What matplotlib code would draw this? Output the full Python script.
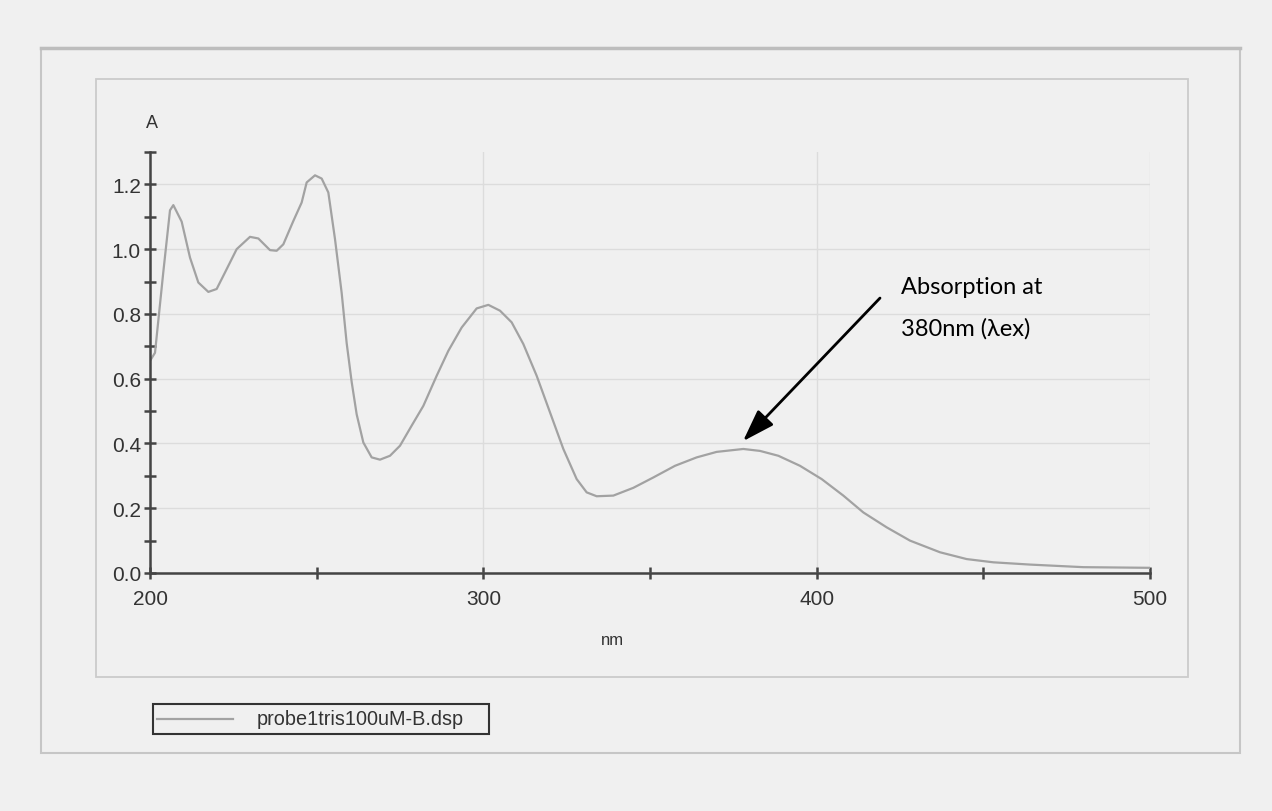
import matplotlib.pyplot as plt
from matplotlib.patches import Rectangle
from matplotlib.lines import Line2D
from matplotlib.ticker import MultipleLocator

# spectrum
wavelength = [200, 201.5, 202.5, 204, 206, 207, 209.5, 212, 214.5, 217.5, 220, 222.5,
              226, 230, 232.5, 236, 238, 240, 243, 245.5, 247, 249.5, 251.5, 253.5,
              255.5, 257.5, 259, 260.5, 262, 264, 266.5, 269, 272, 275, 278.5, 282,
              286, 289.5, 293.5, 298, 301.5, 305, 308.5, 312, 316, 320, 324, 328,
              331, 334, 339, 345, 351, 357.5, 364, 370, 378, 383, 388.5, 395, 401.5,
              408, 414, 421, 428, 437, 445, 453, 464, 480, 500]
absorbance = [0.655, 0.68, 0.78, 0.93, 1.12, 1.136, 1.085, 0.974, 0.897, 0.868, 0.877,
              0.928, 1.0, 1.038, 1.033, 0.997, 0.995, 1.015, 1.087, 1.144, 1.206,
              1.228, 1.218, 1.175, 1.031, 0.865, 0.71, 0.59, 0.49, 0.403, 0.357,
              0.35, 0.362, 0.393, 0.455, 0.516, 0.609, 0.686, 0.758, 0.817, 0.828,
              0.81, 0.774, 0.707, 0.609, 0.496, 0.383, 0.29, 0.249, 0.237, 0.239,
              0.263, 0.295, 0.331, 0.357, 0.374, 0.383, 0.377, 0.362, 0.331, 0.29,
              0.239, 0.187, 0.141, 0.1, 0.064, 0.043, 0.033, 0.026, 0.018, 0.016]
series_name = "probe1tris100uM-B.dsp"

W, H = 1272, 812
bg = "#f0f0f0"
plt.rcParams["font.family"] = ["Liberation Sans", "DejaVu Sans"]


def px(x, y):
    # pixel position (from top left) -> figure coords
    return x / W, 1 - y / H


fig = plt.figure(figsize=(W / 100, H / 100), dpi=100, facecolor=bg)

# the two grey panel frames
fig.add_artist(Rectangle(px(41, 754), 1199 / W, 705 / H, transform=fig.transFigure,
                         fill=False, edgecolor="#c6c6c6", lw=1.5))
fig.add_artist(Line2D([41 / W, 1240 / W], [1 - 49 / H] * 2, transform=fig.transFigure,
                      color="#bdbdbd", lw=2.5))
fig.add_artist(Rectangle(px(96, 678), 1092 / W, 598 / H, transform=fig.transFigure,
                         fill=False, edgecolor="#cbcbcb", lw=1.3))

ax = fig.add_axes([150 / W, 1 - 574 / H, 1000 / W, 421 / H])
ax.set_facecolor(bg)
ax.plot(wavelength, absorbance, color="#a2a2a2", lw=1.6)

ax.set_xlim(200, 500)
ax.set_ylim(0, 1.3)
ax.xaxis.set_major_locator(MultipleLocator(100))
ax.xaxis.set_minor_locator(MultipleLocator(50))
ax.yaxis.set_major_locator(MultipleLocator(0.2))
ax.yaxis.set_minor_locator(MultipleLocator(0.1))
ax.yaxis.set_major_formatter(lambda v, p: f"{v:.1f}")
ax.grid(True, which="major", color="#dcdcdc", lw=1)

for s in ["top", "right"]:
    ax.spines[s].set_visible(False)
for s in ["left", "bottom"]:
    ax.spines[s].set_color("#444444")
    ax.spines[s].set_linewidth(1.8)
ax.tick_params(which="both", direction="inout", length=9, width=1.8, color="#444444",
               labelsize=15, labelcolor="#333333")
ax.tick_params(axis="x", pad=7)
ax.tick_params(axis="y", pad=2)

ax.text(0.002, 1.071, "A", transform=ax.transAxes, ha="center", va="center",
        fontsize=13, color="#333333")
ax.text(0.462, -0.157, "nm", transform=ax.transAxes, ha="center", va="center",
        fontsize=12, color="#333333")

# annotation
ax.annotate("", xy=(377.9, 0.407), xytext=(419, 0.849),
            arrowprops=dict(arrowstyle="-|>,head_width=0.3,head_length=0.9",
                            color="black", lw=2, mutation_scale=22,
                            shrinkA=0, shrinkB=0))
ax.text(425.3, 0.864, "Absorption at", fontsize=17, color="black",
        family=["Lato", "Open Sans", "DejaVu Sans"])
ax.text(425.3, 0.735, "380nm (λex)", fontsize=17, color="black",
        family=["Lato", "Open Sans", "DejaVu Sans"])

# legend box like the instrument software draws it
fig.add_artist(Rectangle(px(153, 735), 336 / W, 30 / H, transform=fig.transFigure,
                         facecolor=bg, edgecolor="#333333", lw=1.5))
fig.add_artist(Line2D([157 / W, 233 / W], [1 - 720 / H] * 2, transform=fig.transFigure,
                      color="#a2a2a2", lw=1.6))
fig.text(257 / W, 1 - 720 / H, series_name, ha="left", va="center", fontsize=14.3,
         color="#333333")

fig.savefig("out.png", dpi=100, facecolor=bg)
